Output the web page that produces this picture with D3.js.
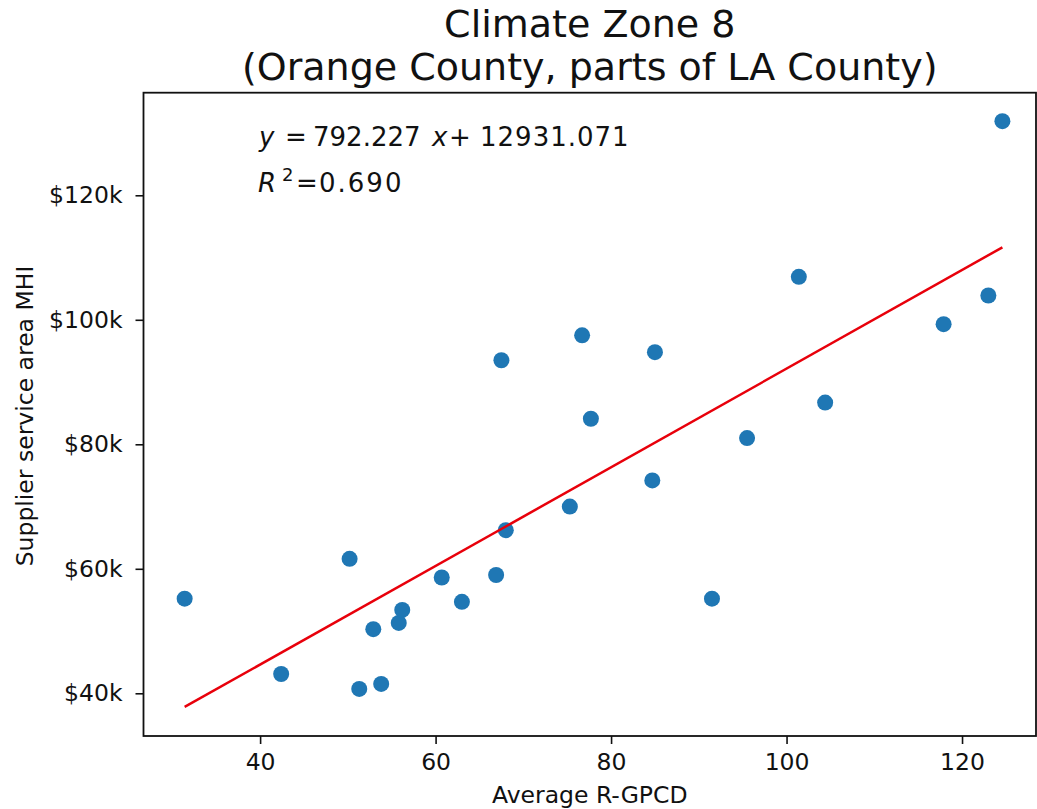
<!DOCTYPE html>
<html>
<head>
<meta charset="utf-8">
<script src="https://cdn.jsdelivr.net/npm/d3@7"></script>
<style>
  body { margin: 0; background: white; }
  text { font-family: "DejaVu Sans", sans-serif; fill: #111; }
</style>
</head>
<body>
<div id="chart"></div>
<script>
const w = 1037;
const h = 809;

// average residential gallons per capita per day, one per supplier
const rgpcd = [31.4, 42.4, 50.2, 51.3, 52.9, 53.8, 55.8, 56.2, 60.7, 63.0, 66.9, 68.0, 67.5,
               75.3, 76.7, 77.7, 84.7, 85.0, 91.5, 95.5, 101.4, 104.4, 117.9, 123.0, 124.6];
// median household income of the service area, $k
const mhi = [55.2, 43.1, 61.6, 40.7, 50.3, 41.5, 51.3, 53.4, 58.6, 54.7, 59.0, 66.2, 93.5,
             70.0, 97.5, 84.1, 74.2, 94.8, 55.2, 81.0, 106.9, 86.7, 99.3, 103.9, 131.9];

const xTicks = [40, 60, 80, 100, 120];
const yTicks = [40, 60, 80, 100, 120];
const yTickLabels = ['$40k', '$60k', '$80k', '$100k', '$120k'];

// fit shown on the chart
const slope = 792.227;
const intercept = 12931.071;
const r2 = '0.690';

const pLeft = 143.5, pRight = 1036, pTop = 92.7, pBottom = 736;

const dataset = rgpcd.map((x, i) => ({x: x, y: mhi[i]}));

const xScale = d3.scaleLinear().domain([26.71, 128.43]).range([pLeft, pRight]);
const yScale = d3.scaleLinear().domain([33.14, 136.48]).range([pBottom, pTop]);

const svg = d3.select('#chart')
              .append('svg')
              .attr('width', w)
              .attr('height', h)
              .style('background-color', 'white');

// regression line over the data range
const xr = d3.extent(rgpcd);
const fit = xr.map(x => ({x: x, y: (slope * x + intercept) / 1000}));

svg.selectAll('circle')
   .data(dataset)
   .enter()
   .append('circle')
   .attr('cx', d => xScale(d.x))
   .attr('cy', d => yScale(d.y))
   .attr('r', 8)
   .attr('fill', '#1f77b4');

svg.append('path')
   .datum(fit)
   .attr('d', d3.line().x(d => xScale(d.x)).y(d => yScale(d.y)))
   .attr('stroke', '#e8000b')
   .attr('stroke-width', 2.5)
   .attr('fill', 'none');

// axes
const xAxis = d3.axisBottom(xScale).tickValues(xTicks).tickSize(8).tickPadding(9).tickFormat(d3.format('d'));
const gx = svg.append('g')
   .attr('transform', `translate(0, ${pBottom})`)
   .call(xAxis);
gx.select('.domain').remove();
gx.selectAll('line').attr('stroke', '#111').attr('stroke-width', 1.6);
gx.selectAll('text').attr('font-size', '23.5px').attr('dy', '0.71em').attr('fill', '#111');

const yAxis = d3.axisLeft(yScale).tickValues(yTicks).tickSize(8).tickPadding(13)
                .tickFormat((d, i) => yTickLabels[i]);
const gy = svg.append('g')
   .attr('transform', `translate(${pLeft}, 0)`)
   .call(yAxis);
gy.select('.domain').remove();
gy.selectAll('line').attr('stroke', '#111').attr('stroke-width', 1.6);
gy.selectAll('text').attr('font-size', '23.5px').attr('fill', '#111');

// frame
svg.append('rect')
   .attr('x', pLeft)
   .attr('y', pTop)
   .attr('width', pRight - pLeft)
   .attr('height', pBottom - pTop)
   .attr('fill', 'none')
   .attr('stroke', '#111')
   .attr('stroke-width', 1.8);

// title
const title = svg.append('text')
   .attr('text-anchor', 'middle')
   .attr('font-size', '38px');
title.append('tspan').attr('x', (pLeft + pRight) / 2).attr('y', 37).text('Climate Zone 8');
title.append('tspan').attr('x', (pLeft + pRight) / 2).attr('y', 80).text('(Orange County, parts of LA County)');

// axis labels
svg.append('text')
   .attr('x', (pLeft + pRight) / 2)
   .attr('y', 803)
   .attr('text-anchor', 'middle')
   .attr('font-size', '23.5px')
   .text('Average R-GPCD');

svg.append('text')
   .attr('transform', `translate(33, 416) rotate(-90)`)
   .attr('text-anchor', 'middle')
   .attr('font-size', '23.5px')
   .text('Supplier service area MHI');

// equation annotation
const eq = svg.append('text').attr('font-size', '26px').attr('y', 146);
eq.append('tspan').attr('x', 259).attr('font-style', 'italic').text('y');
eq.append('tspan').attr('x', 285).text('=');
eq.append('tspan').attr('x', 313).text(slope.toFixed(3));
eq.append('tspan').attr('x', 432).attr('font-style', 'italic').text('x');
eq.append('tspan').attr('x', 449).text('+');
eq.append('tspan').attr('x', 480).attr('letter-spacing', '1px').text(intercept.toFixed(3));

const rt = svg.append('text').attr('font-size', '26px').attr('y', 192);
rt.append('tspan').attr('x', 258).attr('font-style', 'italic').text('R');
rt.append('tspan').attr('x', 282).attr('dy', -11).attr('font-size', '18px').text('2');
rt.append('tspan').attr('x', 296).attr('dy', 11).text('=');
rt.append('tspan').attr('x', 319).attr('letter-spacing', '2px').text(r2);
</script>
</body>
</html>
